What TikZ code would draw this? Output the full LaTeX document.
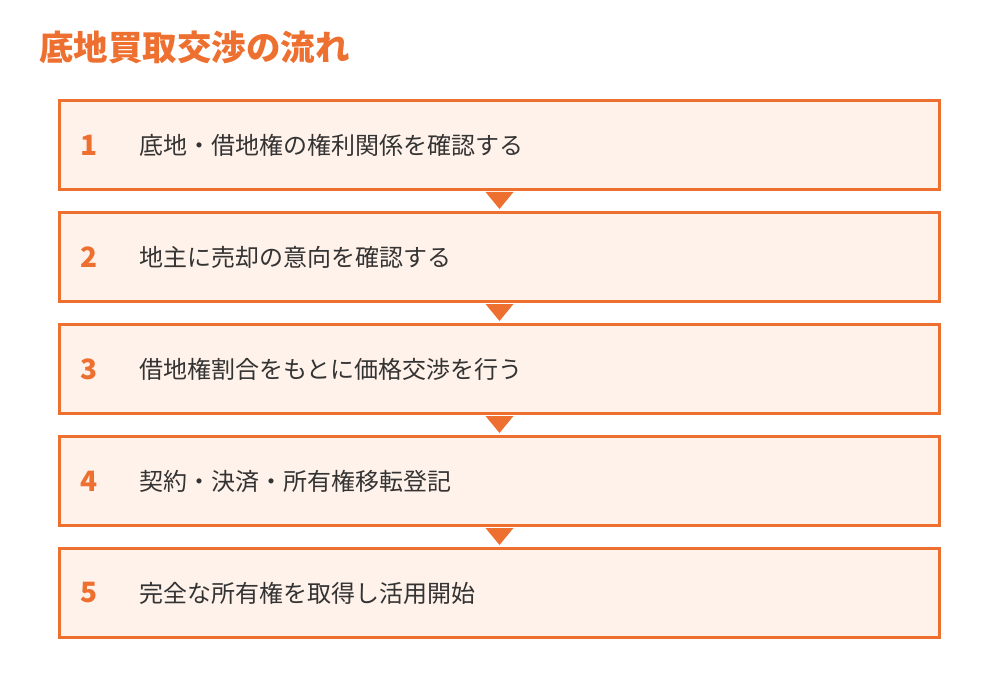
\documentclass[tikz,border=0pt]{standalone}
\usepackage{fontspec}
\setmainfont{Noto Sans CJK JP}
\definecolor{accent}{HTML}{EE7030}
\definecolor{boxfill}{HTML}{FFF2EA}
\definecolor{txt}{HTML}{333333}
\begin{document}
\begin{tikzpicture}[x=1pt,y=-1pt,
  stepbox/.style={draw=accent,fill=boxfill,line width=3pt,minimum width=880pt,minimum height=89pt,inner sep=0pt},
  num/.style={text=accent,font=\fontsize{28}{30}\selectfont\bfseries,inner sep=0pt},
  lbl/.style={text=txt,font=\fontsize{24}{28}\selectfont,inner sep=0pt,anchor=west},
  tri/.style={fill=accent}]
\useasboundingbox (0,0) rectangle (1000,700);
\node[anchor=west,text=accent,font=\fontsize{34.5}{38}\selectfont\bfseries,inner sep=0pt] (title) at (39,47) {底地買取交渉の流れ};
\foreach \i/\t in {1/底地・借地権の権利関係を確認する,2/地主に売却の意向を確認する,3/借地権割合をもとに価格交渉を行う,4/契約・決済・所有権移転登記,5/完全な所有権を取得し活用開始}{
  \node[stepbox] (b\i) at (499.5,{145+112*(\i-1)}) {};
  \node[num] (n\i) at (89,{145+112*(\i-1)}) {\i};
  \node[lbl] (t\i) at (139,{145+112*(\i-1)}) {\t};
}
\foreach \a/\b in {1/2,2/3,3/4,4/5}{
  \fill[tri] ([xshift=-14pt,yshift=-1pt]b\a.south) -- ([xshift=14pt,yshift=-1pt]b\a.south) -- ([yshift=2pt]b\b.north) -- cycle;
}
\end{tikzpicture}
\end{document}
